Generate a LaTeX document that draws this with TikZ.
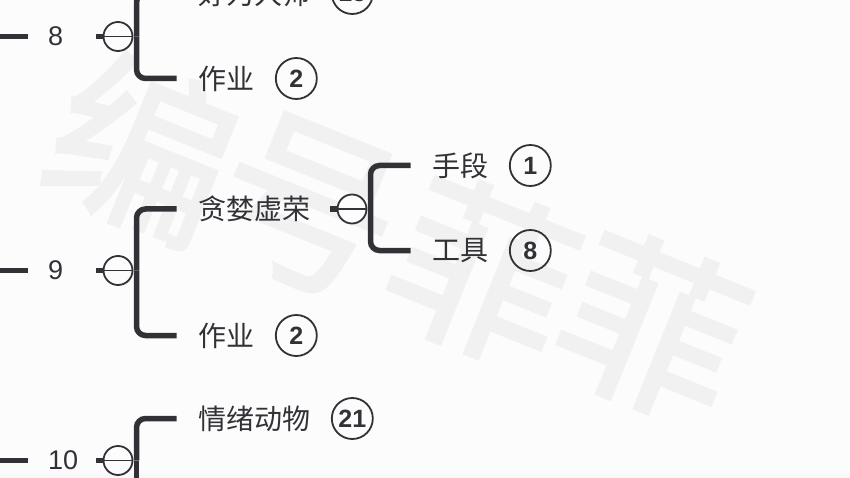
\documentclass[tikz,border=0pt]{standalone}
\usepackage{fontspec}
\setmainfont{Liberation Sans}
\newfontfamily\cjk{Noto Sans CJK SC}
\newfontfamily\cjkstamp[FakeBold=2]{Noto Sans CJK SC}
\usetikzlibrary{positioning}
\definecolor{ink}{HTML}{333136}
\definecolor{paper}{HTML}{FDFCFD}
\definecolor{mark}{HTML}{F2F1F2}
\tikzset{
        x=1pt, y=-1pt,
        stem/.style={draw=ink, line width=5.5pt}, % the short thick lines
        spine/.style={draw=ink, line width=5.5pt, rounded corners=9pt},
        knob/.style={circle, draw=ink, line width=1.8pt, fill=paper, minimum size=29pt, inner sep=0pt},
        leaf/.style={anchor=west, inner xsep=22pt, inner ysep=0pt, text=ink, font=\cjk\fontsize{28}{28}\selectfont},
        badge/.style={circle, draw=ink, line width=1.8pt, minimum size=41pt, inner sep=0pt, text=ink, font=\bfseries\fontsize{25}{25}\selectfont},
        number/.style={anchor=west, inner xsep=20pt, inner ysep=0pt, text=ink, font=\fontsize{27}{27}\selectfont},
        stamp/.style={text=mark, rotate=-22, font=\cjkstamp\fontsize{180}{180}\selectfont},
        }
\begin{document}
\begin{tikzpicture}
        \path[use as bounding box, fill=paper] (0,0) rectangle (850,478);
        \clip (0,0) rectangle (850,478);
        \fill[mark!40!paper] (0,473) rectangle (850,478);
        % watermark
        \node[stamp] (stampA) at (143,147) {编};
        \node[stamp] (stampB) at (308,207) {号};
        \node[stamp] (stampC) at (483,272) {菲};
        \node[stamp] (stampD) at (653,327) {菲};

        % row 8
        \node[number] (num8) at (28,36.5) {8};
        \node[knob] (knob8) at (118,36.5) {};
        \coordinate (tail8) at (0,36.5);
        \coordinate (stub8) at (96,36.5);
        \coordinate (spine8) at (136.5,36.5);
        \node[leaf] (master8) at (176.5,-6.5) {好为人师};
        \node[badge, right=-2pt of master8] (masterN) {15};
        \node[leaf] (work8) at (176.5,78.5) {作业};
        \node[badge, right=-2pt of work8] (workN8) {2};
        \draw[stem] (tail8) -- (num8);
        \draw[stem] (stub8) -- (knob8);
        \draw[knob] (knob8.west) -- (knob8.east);
        \draw[spine] (spine8) |- (master8.west);
        \draw[spine] (spine8) |- (work8.west);

        % row 9
        \node[number] (num9) at (28,270.5) {9};
        \node[knob] (knob9) at (118,270.5) {};
        \coordinate (tail9) at (0,270.5);
        \coordinate (stub9) at (96,270.5);
        \coordinate (spine9) at (136.5,270.5);
        \node[leaf] (vain) at (176.5,209) {贪婪虚荣};
        \node[leaf] (work9) at (176.5,335.5) {作业};
        \node[badge, right=-2pt of work9] (workN9) {2};
        \draw[stem] (tail9) -- (num9);
        \draw[stem] (stub9) -- (knob9);
        \draw[knob] (knob9.west) -- (knob9.east);
        \draw[spine] (spine9) |- (vain.west);
        \draw[spine] (spine9) |- (work9.west);

        % branch of vain
        \node[knob] (knobV) at (352,209) {};
        \coordinate (stubV) at (330,209);
        \coordinate (spineV) at (370.5,209);
        \node[leaf] (means) at (410.5,165.5) {手段};
        \node[badge, right=-2pt of means] (meansN) {1};
        \node[leaf] (tool) at (410.5,250.5) {工具};
        \node[badge, right=-2pt of tool] (toolN) {8};
        \draw[stem] (stubV) -- (knobV);
        \draw[knob] (knobV.west) -- (knobV.east);
        \draw[spine] (spineV) |- (means.west);
        \draw[spine] (spineV) |- (tool.west);

        % row 10
        \node[number] (num10) at (28,460.5) {10};
        \node[knob] (knob10) at (118,460.5) {};
        \coordinate (tail10) at (0,460.5);
        \coordinate (stub10) at (96,460.5);
        \coordinate (spine10) at (136.5,460.5);
        \coordinate (down10) at (136.5,490);
        \node[leaf] (mood) at (176.5,418.5) {情绪动物};
        \node[badge, right=-2pt of mood] (moodN) {21};
        \draw[stem] (tail10) -- (num10);
        \draw[stem] (stub10) -- (knob10);
        \draw[knob] (knob10.west) -- (knob10.east);
        \draw[spine] (spine10) |- (mood.west);
        \draw[stem] (spine10) -- (down10);
\end{tikzpicture}
\end{document}
